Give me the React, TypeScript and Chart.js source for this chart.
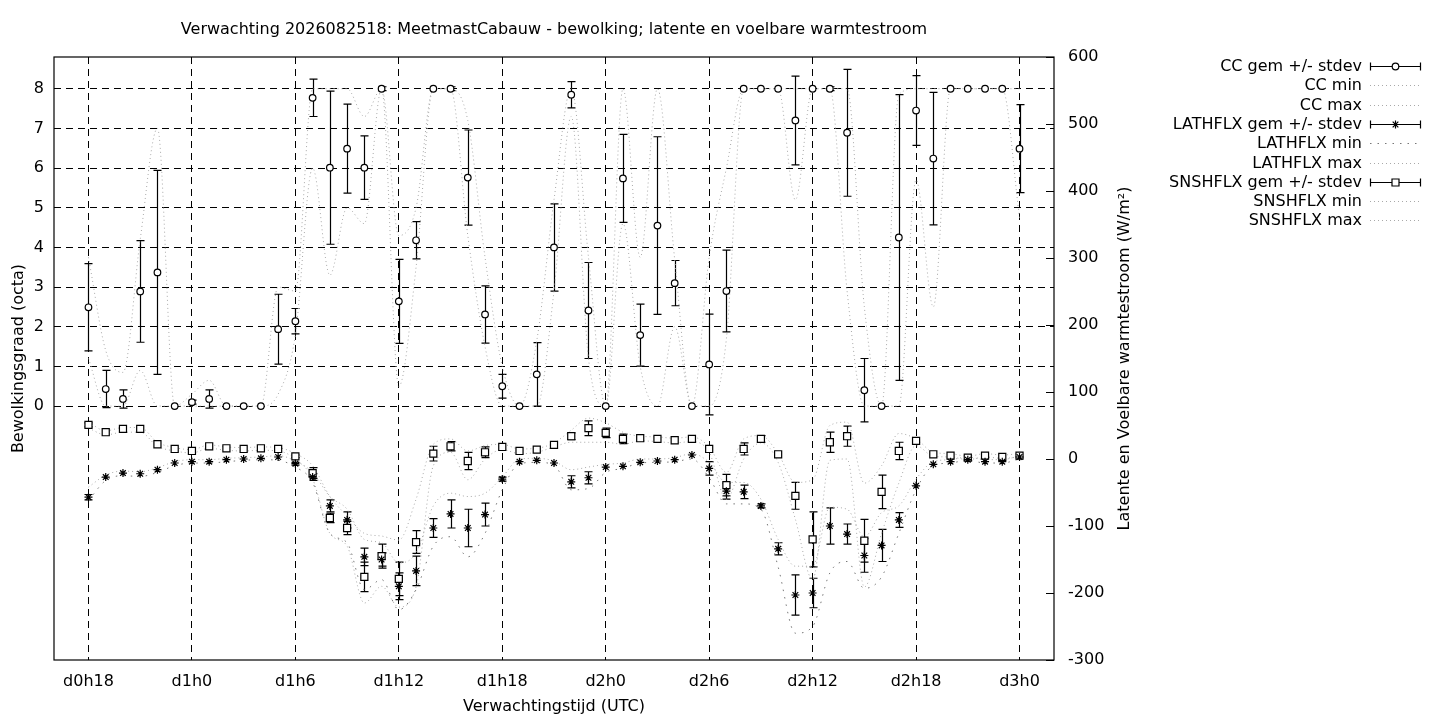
import { useEffect, useRef } from "react";
import { Chart, registerables, type Plugin } from "chart.js";

Chart.register(...registerables);

// forecast hours since d0h0 (d0h18 .. d3h0)
const HOURS = [
  18, 19, 20, 21, 22, 23,
  24, 25, 26, 27, 28, 29, 30, 31, 32, 33, 34, 35, 36, 37, 38, 39, 40, 41, 42, 43, 44, 45, 46, 47,
  48, 49, 50, 51, 52, 53, 54, 55, 56, 57, 58, 59, 60, 61, 62, 63, 64, 65, 66, 67, 68, 69, 70, 71,
  72,
];

const X_TICKS = [18, 24, 30, 36, 42, 48, 54, 60, 66, 72];
const X_LABELS = ["d0h18", "d1h0", "d1h6", "d1h12", "d1h18", "d2h0", "d2h6", "d2h12", "d2h18", "d3h0"];
const Y_TICKS = [0, 1, 2, 3, 4, 5, 6, 7, 8];
const Y2_TICKS = [-300, -200, -100, 0, 100, 200, 300, 400, 500, 600];

// bewolking (octa)
const CC_MEAN = [
  2.49, 0.43, 0.18, 2.89, 3.37, 0,
  0.1, 0.18, 0, 0, 0, 1.94, 2.14, 7.77, 6.01, 6.49, 6.01, 8, 2.64, 4.18, 8, 8, 5.76, 2.31, 0.5, 0, 0.8, 4.0, 7.85, 2.41,
  0, 5.74, 1.79, 4.55, 3.1, 0, 1.05, 2.9, 8, 8, 8, 7.2, 8, 8, 6.89, 0.4, 0, 4.25, 7.45, 6.24, 8, 8, 8, 8,
  6.49,
];
const CC_SD = [
  1.1, 0.47, 0.23, 1.28, 2.57, 0,
  0.05, 0.23, 0, 0, 0, 0.88, 0.32, 0.47, 1.93, 1.12, 0.8, 0.05, 1.06, 0.47, 0, 0.05, 1.2, 0.72, 0.3, 0, 0.8, 1.1, 0.33, 1.21,
  0, 1.11, 0.78, 2.24, 0.57, 0, 1.27, 1.03, 0, 0, 0, 1.12, 0, 0.05, 1.6, 0.8, 0, 3.6, 0.88, 1.67, 0, 0, 0, 0,
  1.11,
];
const CC_MIN = [
  1.2, 0, 0, 0.9, 0, 0,
  0, 0, 0, 0, 0, 0.3, 1.8, 6.0, 3.3, 5.0, 4.6, 8, 0.5, 3.5, 8, 8, 4.3, 1.5, 0, 0, 0, 2.9, 7.3, 1.2,
  0, 4.6, 1.0, 0, 2.0, 0, 0, 1.7, 8, 8, 8, 5.2, 8, 8, 2.9, 0, 0, 0, 5.7, 2.5, 8, 8, 8, 8,
  4.75,
];
const CC_MAX = [
  3.75, 1.4, 0.85, 4.2, 7.0, 0,
  0.3, 0.65, 0, 0, 0, 3.0, 2.9, 8, 8, 8, 7.3, 8, 4.3, 5, 8, 8, 7.2, 3.75, 1.0, 0, 1.65, 5.2, 8, 3.75,
  0, 8, 3.75, 8, 3.7, 0, 3.75, 6.0, 8, 8, 8, 8, 8, 8, 8, 2.5, 0, 7.85, 8, 8, 8, 8, 8, 8,
  8,
];

// latente warmtestroom (W/m2)
const LATH_MEAN = [
  -57, -27, -21, -22, -16, -6,
  -4, -4, -1, 0, 1, 3, -7, -27, -70, -91, -146, -150, -190, -167, -103, -82, -103, -83, -30, -4, -2, -6, -34, -28,
  -12, -11, -5, -3, -1, 6, -14, -48, -49, -70, -134, -203, -200, -100, -112, -144, -129, -91, -40, -8, -4, -1, -4, -4,
  3,
];
const LATH_SD = [
  4, 0, 0, 0, 0, 0,
  0, 0, 0, 0, 0, 0, 2, 5, 9, 12, 13, 10, 20, 22, 14, 21, 28, 17, 3, 0, 0, 0, 9, 9,
  0, 0, 0, 0, 0, 0, 10, 12, 10, 3, 9, 30, 22, 27, 15, 25, 24, 11, 0, 0, 0, 0, 0, 0,
  0,
];
const LATH_MIN = [
  -62, -32, -25, -26, -20, -10,
  -6, -6, -4, -2, -1, -2, -12, -35, -111, -125, -195, -180, -225, -195, -130, -116, -146, -111, -46, -7, -5, -9, -46, -44,
  -20, -14, -6, -5, -4, 0, -28, -67, -67, -75, -161, -260, -250, -170, -153, -193, -176, -111, -46, -10, -6, -2, -6, -6,
  0,
];
const LATH_MAX = [
  -42, -24, -18, -19, -13, -4,
  -1, -1, 1, 2, 3, 5, -3, -20, -56, -75, -120, -125, -155, -140, -70, -51, -56, -51, -27, 0, 1, -3, -16, -12,
  -8, -6, 0, 0, 2, 8, -5, -35, -35, -60, -120, -160, -160, -72, -75, -116, -80, -70, -30, -4, -1, 3, -1, -1,
  5,
];

// voelbare warmtestroom (W/m2)
const SNS_MEAN = [
  51, 40, 45, 45, 22, 15,
  12, 19, 16, 15, 16, 15, 4, -21, -88, -103, -176, -145, -179, -124, 8, 19, -3, 10, 18, 12, 14, 21, 34, 46,
  39, 30, 31, 30, 28, 30, 15, -39, 15, 30, 7, -55, -120, 25, 34, -122, -49, 12, 27, 7, 5, 2, 5, 3,
  5,
];
const SNS_SD = [
  3, 0, 0, 0, 0, 0,
  0, 0, 0, 0, 0, 0, 2, 8, 7, 10, 22, 18, 25, 17, 11, 7, 13, 8, 0, 0, 0, 0, 5, 11,
  7, 7, 0, 0, 0, 0, 0, 16, 9, 5, 0, 20, 41, 15, 15, 32, 25, 13, 0, 0, 0, 0, 0, 0,
  0,
];
const SNS_MIN = [
  46, 36, 40, 40, 19, 12,
  9, 16, 13, 12, 13, 12, 0, -30, -111, -130, -215, -190, -221, -191, -10, 10, -31, 0, 14, 8, 10, 18, 25, 25,
  25, 22, 27, 26, 24, 26, 10, -60, 0, 24, -5, -90, -180, -2, 0, -191, -111, -36, 20, 4, 3, -1, 3, 1,
  3,
];
const SNS_MAX = [
  55, 42, 47, 47, 25, 17,
  14, 21, 18, 17, 18, 17, 8, -10, -56, -85, -111, -115, -121, -60, 22, 30, 12, 20, 22, 15, 16, 24, 43, 61,
  54, 40, 34, 33, 31, 33, 18, -20, 30, 35, 8, -35, -31, 50, 55, -36, -10, 38, 30, 10, 8, 4, 8, 6,
  8,
];

const FONT = "'DejaVu Sans', sans-serif";
const DOT = "#a9a9a9";
const DOT_DARK = "#777777";

const ERRBARS = [
  { mean: CC_MEAN, sd: CC_SD, axis: "y" },
  { mean: LATH_MEAN, sd: LATH_SD, axis: "y2" },
  { mean: SNS_MEAN, sd: SNS_SD, axis: "y2" },
];

const LEGEND = [
  { label: "CC gem +/- stdev", marker: "circle" },
  { label: "CC min", dash: [1, 3], color: DOT },
  { label: "CC max", dash: [1, 3], color: DOT },
  { label: "LATHFLX gem +/- stdev", marker: "star" },
  { label: "LATHFLX min", dash: [1.5, 6], color: DOT_DARK },
  { label: "LATHFLX max", dash: [1, 3], color: DOT },
  { label: "SNSHFLX gem +/- stdev", marker: "rect" },
  { label: "SNSHFLX min", dash: [1, 3], color: DOT },
  { label: "SNSHFLX max", dash: [1, 3], color: DOT },
];

const pts = (vals: number[]) => HOURS.map((h, i) => ({ x: h, y: vals[i] }));

const dotted = (label: string, vals: number[], axis: string, color = DOT, dash = [1, 3]) => ({
  label,
  data: pts(vals),
  yAxisID: axis,
  borderColor: color,
  borderWidth: 1,
  borderDash: dash,
  pointRadius: 0,
  cubicInterpolationMode: "monotone" as const,
  fill: false,
});

const marks = (label: string, vals: number[], axis: string, style: string, radius: number) => ({
  label,
  data: pts(vals),
  yAxisID: axis,
  showLine: false,
  pointStyle: style,
  pointRadius: radius,
  pointBorderWidth: 1.2,
  pointBorderColor: "#000",
  pointBackgroundColor: "#fff",
});

function drawMarker(ctx: CanvasRenderingContext2D, kind: string, x: number, y: number) {
  ctx.beginPath();
  if (kind === "circle") {
    ctx.arc(x, y, 3.3, 0, Math.PI * 2);
    ctx.fillStyle = "#fff";
    ctx.fill();
  } else if (kind === "rect") {
    ctx.rect(x - 3.5, y - 3.5, 7, 7);
    ctx.fillStyle = "#fff";
    ctx.fill();
  } else {
    const r = 4;
    ctx.moveTo(x - r, y); ctx.lineTo(x + r, y);
    ctx.moveTo(x, y - r); ctx.lineTo(x, y + r);
    const d = r * Math.SQRT1_2;
    ctx.moveTo(x - d, y - d); ctx.lineTo(x + d, y + d);
    ctx.moveTo(x - d, y + d); ctx.lineTo(x + d, y - d);
  }
  ctx.stroke();
}

const gnuplotLook: Plugin<"line"> = {
  id: "gnuplotLook",
  beforeDatasetsDraw(chart) {
    const { ctx, scales } = chart;
    const xs = scales.x;
    ctx.save();
    ctx.strokeStyle = "#000";
    ctx.lineWidth = 1.2;
    for (const s of ERRBARS) {
      const ys = scales[s.axis];
      s.mean.forEach((m, i) => {
        const sd = s.sd[i];
        if (sd <= 0) return;
        const px = Math.round(xs.getPixelForValue(HOURS[i])) + 0.5;
        const lo = ys.getPixelForValue(m - sd);
        const hi = ys.getPixelForValue(m + sd);
        ctx.beginPath();
        ctx.moveTo(px, lo); ctx.lineTo(px, hi);
        ctx.moveTo(px - 4, lo); ctx.lineTo(px + 4, lo);
        ctx.moveTo(px - 4, hi); ctx.lineTo(px + 4, hi);
        ctx.stroke();
      });
    }
    ctx.restore();
  },
  afterDraw(chart) {
    const { ctx, chartArea: a, scales } = chart;
    ctx.save();
    // border
    ctx.strokeStyle = "#000";
    ctx.lineWidth = 1.2;
    ctx.strokeRect(a.left, a.top, a.right - a.left, a.bottom - a.top);
    // inward y2 tics
    ctx.lineWidth = 1;
    ctx.beginPath();
    for (const v of Y2_TICKS) {
      const py = Math.round(scales.y2.getPixelForValue(v)) + 0.5;
      ctx.moveTo(a.right, py);
      ctx.lineTo(a.right - 8, py);
    }
    ctx.stroke();

    // titles
    ctx.fillStyle = "#000";
    ctx.font = `16px ${FONT}`;
    ctx.textAlign = "center";
    ctx.textBaseline = "middle";
    const midX = (a.left + a.right) / 2;
    const midY = (a.top + a.bottom) / 2;
    ctx.fillText(
      "Verwachting 2026082518: MeetmastCabauw - bewolking; latente en voelbare warmtestroom",
      midX,
      30,
    );
    ctx.fillText("Verwachtingstijd (UTC)", midX, 707);
    ctx.save();
    ctx.translate(19, midY);
    ctx.rotate(-Math.PI / 2);
    ctx.fillText("Bewolkingsgraad (octa)", 0, 0);
    ctx.restore();
    ctx.save();
    ctx.translate(1125, midY);
    ctx.rotate(-Math.PI / 2);
    ctx.fillText("Latente en Voelbare warmtestroom (W/m²)", 0, 0);
    ctx.restore();

    // legend
    ctx.textAlign = "right";
    LEGEND.forEach((it, i) => {
      const y = Math.round(66 + i * 19.3) + 0.5;
      ctx.fillStyle = "#000";
      ctx.fillText(it.label, 1362, y);
      if (it.marker) {
        ctx.strokeStyle = "#000";
        ctx.lineWidth = 1.2;
        ctx.setLineDash([]);
        ctx.beginPath();
        ctx.moveTo(1370, y); ctx.lineTo(1421, y);
        ctx.moveTo(1370.5, y - 4); ctx.lineTo(1370.5, y + 4);
        ctx.moveTo(1420.5, y - 4); ctx.lineTo(1420.5, y + 4);
        ctx.stroke();
        drawMarker(ctx, it.marker, 1395.5, y);
      } else {
        ctx.strokeStyle = it.color!;
        ctx.lineWidth = 1;
        ctx.setLineDash(it.dash!);
        ctx.beginPath();
        ctx.moveTo(1370, y); ctx.lineTo(1421, y);
        ctx.stroke();
        ctx.setLineDash([]);
      }
    });
    ctx.restore();
  },
};

export default function App() {
  const canvasRef = useRef<HTMLCanvasElement>(null);

  useEffect(() => {
    if (!canvasRef.current) return;
    const tickFont = { family: FONT, size: 16 };
    const chart = new Chart(canvasRef.current, {
      type: "line",
      data: {
        datasets: [
          marks("CC gem +/- stdev", CC_MEAN, "y", "circle", 3.3),
          marks("LATHFLX gem +/- stdev", LATH_MEAN, "y2", "star", 4),
          marks("SNSHFLX gem +/- stdev", SNS_MEAN, "y2", "rect", 5),
          dotted("CC min", CC_MIN, "y"),
          dotted("CC max", CC_MAX, "y"),
          dotted("LATHFLX min", LATH_MIN, "y2", DOT_DARK, [1.5, 6]),
          dotted("LATHFLX max", LATH_MAX, "y2"),
          dotted("SNSHFLX min", SNS_MIN, "y2"),
          dotted("SNSHFLX max", SNS_MAX, "y2"),
        ] as any,
      },
      options: {
        responsive: false,
        animation: false,
        events: [],
        layout: { padding: { top: 57, left: 0, right: 306, bottom: 0 } },
        plugins: {
          legend: { display: false },
          tooltip: { enabled: false },
          title: { display: false },
        },
        scales: {
          x: {
            type: "linear",
            min: 16,
            max: 74,
            afterBuildTicks: (s) => {
              s.ticks = X_TICKS.map((v) => ({ value: v }));
            },
            afterFit: (s) => {
              s.height = 60;
            },
            ticks: {
              color: "#000",
              font: tickFont,
              padding: 12,
              maxRotation: 0,
              autoSkip: false,
              callback: (v) => X_LABELS[X_TICKS.indexOf(Number(v))] ?? "",
            },
            grid: { color: "#000", lineWidth: 1, drawTicks: false },
            border: { display: false, dash: [7, 5] },
          },
          y: {
            type: "linear",
            position: "left",
            min: -6.4,
            max: 8.8,
            afterBuildTicks: (s) => {
              s.ticks = Y_TICKS.map((v) => ({ value: v }));
            },
            afterFit: (s) => {
              s.width = 54;
            },
            ticks: { color: "#000", font: tickFont, padding: 10 },
            grid: { color: "#000", lineWidth: 1, drawTicks: false },
            border: { display: false, dash: [7, 5] },
          },
          y2: {
            type: "linear",
            position: "right",
            min: -300,
            max: 600,
            afterBuildTicks: (s) => {
              s.ticks = Y2_TICKS.map((v) => ({ value: v }));
            },
            afterFit: (s) => {
              s.width = 80;
            },
            ticks: { color: "#000", font: tickFont, padding: 14 },
            grid: { display: false, drawTicks: false },
            border: { display: false },
          },
        },
      },
      plugins: [gnuplotLook],
    });
    return () => chart.destroy();
  }, []);

  return (
    <div style={{ position: "absolute", left: 0, top: 0, width: 1440, height: 720, background: "#fff" }}>
      <canvas ref={canvasRef} width={1440} height={720} />
    </div>
  );
}
